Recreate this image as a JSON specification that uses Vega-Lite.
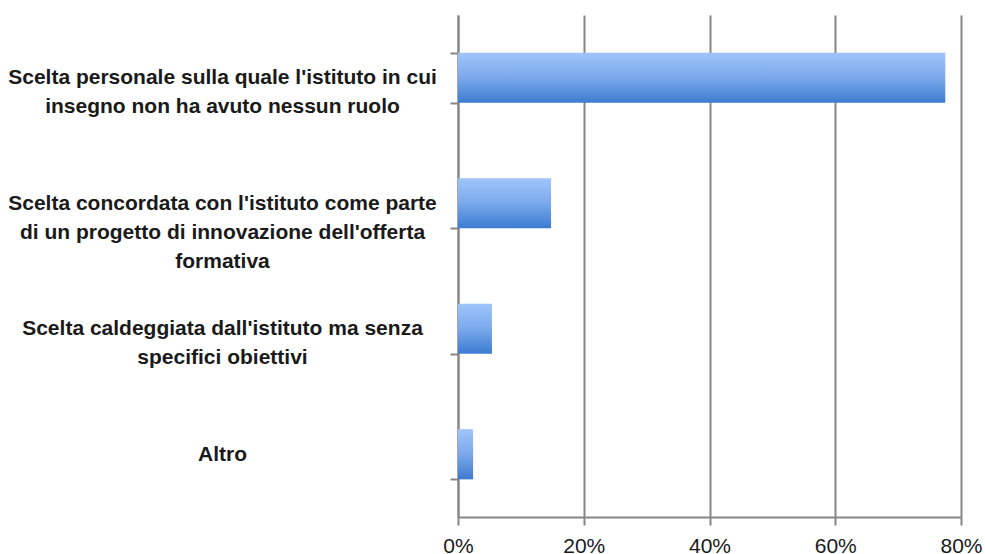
{
  "$schema": "https://vega.github.io/schema/vega-lite/v6.json",
  "width": 503,
  "height": 502,
  "autosize": "none",
  "padding": {"left": 458, "top": 15, "right": 24, "bottom": 37},
  "background": "white",
  "config": {"view": {"stroke": null}},
  "data": {
    "values": [
      {"cat": "Scelta personale sulla quale l'istituto in cui|insegno non ha avuto nessun ruolo", "pct": 0.775},
      {"cat": "Scelta concordata con l'istituto come parte|di un progetto di innovazione dell'offerta|formativa", "pct": 0.148},
      {"cat": "Scelta caldeggiata dall'istituto ma senza|specifici obiettivi", "pct": 0.054},
      {"cat": "Altro", "pct": 0.024}
    ]
  },
  "mark": {
    "type": "bar",
    "color": {
      "gradient": "linear",
      "x1": 0, "y1": 0, "x2": 0, "y2": 1,
      "stops": [
        {"offset": 0, "color": "#a0c5fa"},
        {"offset": 0.5, "color": "#7aa9ec"},
        {"offset": 1, "color": "#3b7bd1"}
      ]
    }
  },
  "encoding": {
    "y": {
      "field": "cat",
      "type": "nominal",
      "sort": null,
      "scale": {"paddingInner": 0.6, "paddingOuter": 0.3},
      "axis": {
        "title": null,
        "labelExpr": "split(datum.label, '|')",
        "labelFont": "Liberation Sans",
        "labelFontWeight": "bold",
        "labelFontSize": 21,
        "labelColor": "#1a1a1a",
        "labelAlign": "center",
        "labelBaseline": "middle",
        "labelLineHeight": 29,
        "labelPadding": 228,
        "labelLimit": 0,
        "tickBand": "extent",
        "tickSize": 8,
        "tickWidth": 2,
        "tickColor": "#868686",
        "domainColor": "#868686",
        "domainWidth": 2,
        "grid": false
      }
    },
    "x": {
      "field": "pct",
      "type": "quantitative",
      "scale": {"domain": [0, 0.8], "nice": false},
      "axis": {
        "title": null,
        "values": [0, 0.2, 0.4, 0.6, 0.8],
        "format": ".0%",
        "labelFont": "Liberation Sans",
        "labelFontSize": 21,
        "labelColor": "#1a1a1a",
        "labelPadding": 10,
        "labelFlush": false,
        "tickSize": 8,
        "tickWidth": 2,
        "tickColor": "#868686",
        "domainColor": "#868686",
        "domainWidth": 2,
        "grid": true,
        "gridColor": "#868686",
        "gridWidth": 2
      }
    }
  }
}
